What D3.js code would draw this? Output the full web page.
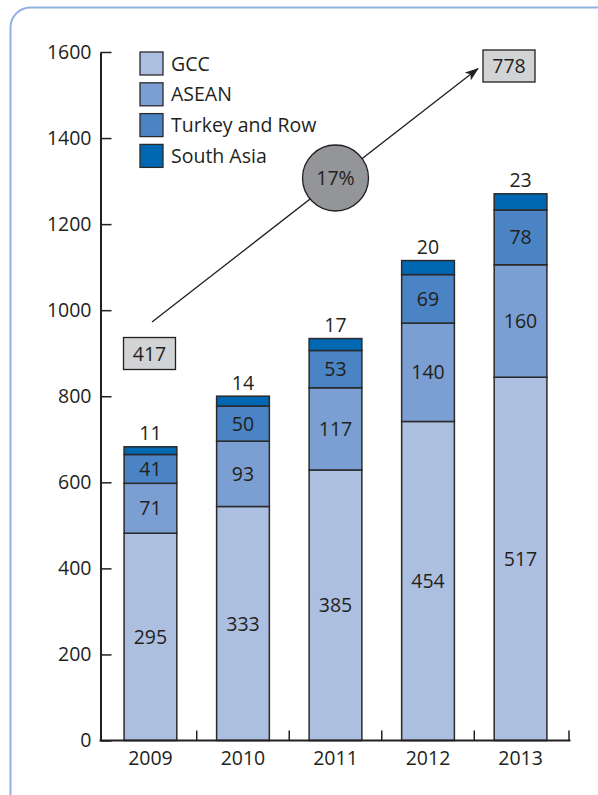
<!DOCTYPE html>
<html>
<head>
<meta charset="utf-8">
<script src="https://cdn.jsdelivr.net/npm/d3@7"></script>
<style>
  html, body { margin: 0; padding: 0; background: #fff; }
  svg { display: block; }
  text { font-family: "Open Sans", "Noto Sans", sans-serif; fill: #231f20; }
</style>
</head>
<body>
<svg id="chart" width="598" height="795"></svg>
<script>
// Years and stacked series (segment labels)
const years = ["2009", "2010", "2011", "2012", "2013"];
const seriesNames = ["GCC", "ASEAN", "Turkey and Row", "South Asia"];
const gcc = [295, 333, 385, 454, 517];
const asean = [71, 93, 117, 140, 160];
const turkeyRow = [41, 50, 53, 69, 78];
const southAsia = [11, 14, 17, 20, 23];
const yTickValues = [0, 200, 400, 600, 800, 1000, 1200, 1400, 1600];

// Growth annotation
const startTotal = 417;
const endTotal = 778;
const growthLabel = "17%";

// The left axis is expressed in a different unit than the segment labels:
// one labelled unit spans 1.633 axis units.
const axisUnitsPerValue = 1.633;

const colors = ["#adbfe1", "#7c9fd3", "#4a84c4", "#0068b3"];
const ink = "#231f20";
const labelSize = 19.5;

const svg = d3.select("#chart");

// Rounded frame around the figure
svg.append("rect")
  .attr("x", 10.5).attr("y", 7.5)
  .attr("width", 640).attr("height", 830)
  .attr("rx", 20).attr("ry", 20)
  .attr("fill", "none")
  .attr("stroke", "#8fb0e0")
  .attr("stroke-width", 2);

const plot = { left: 100.5, right: 570.5, top: 52, bottom: 740.5 };

const x = d3.scaleBand()
  .domain(years)
  .range([plot.left, plot.right])
  .paddingInner(0.43)
  .paddingOuter(0.255);

const yAxisScale = d3.scaleLinear()
  .domain([0, 1600])
  .range([plot.bottom, plot.top]);

const yValue = d3.scaleLinear()
  .domain([0, 1600 / axisUnitsPerValue])
  .range([plot.bottom, plot.top]);

// Stack the series
const rows = years.map((yr, i) => ({
  year: yr,
  "GCC": gcc[i],
  "ASEAN": asean[i],
  "Turkey and Row": turkeyRow[i],
  "South Asia": southAsia[i]
}));
const stacked = d3.stack().keys(seriesNames)(rows);

// Bars
const layers = svg.append("g").selectAll("g")
  .data(stacked)
  .join("g")
  .attr("fill", (d, i) => colors[i]);

layers.selectAll("rect")
  .data(d => d)
  .join("rect")
  .attr("x", d => x(d.data.year))
  .attr("y", d => yValue(d[1]))
  .attr("width", x.bandwidth())
  .attr("height", d => yValue(d[0]) - yValue(d[1]))
  .attr("stroke", "#2a2a2a")
  .attr("stroke-width", 1.5);

// Segment labels: centred inside, top series above the bar
stacked.forEach((layer, li) => {
  const isTop = li === stacked.length - 1;
  svg.append("g").selectAll("text")
    .data(layer)
    .join("text")
    .attr("x", d => x(d.data.year) + x.bandwidth() / 2)
    .attr("y", d => isTop ? yValue(d[1]) - 13.5 : (yValue(d[0]) + yValue(d[1])) / 2)
    .attr("dy", "0.36em")
    .attr("text-anchor", "middle")
    .attr("font-size", labelSize)
    .text(d => d[1] - d[0]);
});

// Y axis with inward ticks
const yAxis = d3.axisLeft(yAxisScale)
  .tickValues(yTickValues)
  .tickFormat(d3.format("d"))
  .tickSize(-11)
  .tickSizeOuter(0)
  .tickPadding(9);

const yg = svg.append("g")
  .attr("transform", `translate(${plot.left},0)`)
  .call(yAxis);
yg.select(".domain").attr("stroke", ink).attr("stroke-width", 2);
yg.selectAll(".tick line").attr("stroke", ink).attr("stroke-width", 1.5);
yg.selectAll(".tick text")
  .attr("font-family", "'Open Sans', 'Noto Sans', sans-serif")
  .attr("font-size", labelSize)
  .attr("fill", ink);

// X axis: baseline, upward ticks between the bars, year labels
const gap = x.step() - x.bandwidth();
const xTickPositions = years.map((yr, i) =>
  i === years.length - 1 ? plot.right - 1.5 : x(yr) + x.bandwidth() + gap / 2);

const xg = svg.append("g");
xg.selectAll("line.tick")
  .data(xTickPositions)
  .join("line")
  .attr("class", "tick")
  .attr("x1", d => d).attr("x2", d => d)
  .attr("y1", plot.bottom).attr("y2", plot.bottom - 10)
  .attr("stroke", ink).attr("stroke-width", 1.5);
xg.append("line")
  .attr("x1", plot.left - 1).attr("x2", plot.right)
  .attr("y1", plot.bottom).attr("y2", plot.bottom)
  .attr("stroke", ink).attr("stroke-width", 2.2);
xg.selectAll("text")
  .data(years)
  .join("text")
  .attr("x", d => x(d) + x.bandwidth() / 2)
  .attr("y", 758)
  .attr("dy", "0.36em")
  .attr("text-anchor", "middle")
  .attr("font-size", labelSize)
  .text(d => d);

// Legend
const legend = svg.append("g").attr("transform", "translate(140,52)");
seriesNames.forEach((name, i) => {
  const g = legend.append("g").attr("transform", `translate(0,${i * 30.8})`);
  g.append("rect")
    .attr("width", 23).attr("height", 23)
    .attr("fill", colors[i])
    .attr("stroke", "#2a2a2a").attr("stroke-width", 1.3);
  g.append("text")
    .attr("x", 31).attr("y", 11.5)
    .attr("dy", "0.36em")
    .attr("font-size", labelSize)
    .text(name);
});

// Growth arrow from the 2009 total to the 2013 total
const defs = svg.append("defs");
defs.append("marker")
  .attr("id", "arrowHead")
  .attr("viewBox", "0 0 14 10")
  .attr("refX", 13).attr("refY", 5)
  .attr("markerWidth", 14).attr("markerHeight", 10)
  .attr("markerUnits", "userSpaceOnUse")
  .attr("orient", "auto")
  .append("path")
  .attr("d", "M0,0 L14,5 L0,10 L3.5,5 Z")
  .attr("fill", ink);

svg.append("line")
  .attr("x1", 152).attr("y1", 322)
  .attr("x2", 478).attr("y2", 68.5)
  .attr("stroke", ink).attr("stroke-width", 1.3)
  .attr("marker-end", "url(#arrowHead)");

// Growth circle
svg.append("circle")
  .attr("cx", 335.5).attr("cy", 178).attr("r", 33)
  .attr("fill", "#939598")
  .attr("stroke", ink).attr("stroke-width", 1.3);
svg.append("text")
  .attr("x", 335.5).attr("y", 178)
  .attr("dy", "0.36em")
  .attr("text-anchor", "middle")
  .attr("font-size", labelSize)
  .text(growthLabel);

// Total boxes
const boxes = [
  { value: startTotal, x: 123.5, y: 337.5 },
  { value: endTotal, x: 483, y: 50 }
];
boxes.forEach(b => {
  svg.append("rect")
    .attr("x", b.x).attr("y", b.y)
    .attr("width", 52).attr("height", 32)
    .attr("fill", "#d1d3d4")
    .attr("stroke", ink).attr("stroke-width", 1.3);
  svg.append("text")
    .attr("x", b.x + 26).attr("y", b.y + 16)
    .attr("dy", "0.36em")
    .attr("text-anchor", "middle")
    .attr("font-size", labelSize)
    .text(b.value);
});
</script>
</body>
</html>
